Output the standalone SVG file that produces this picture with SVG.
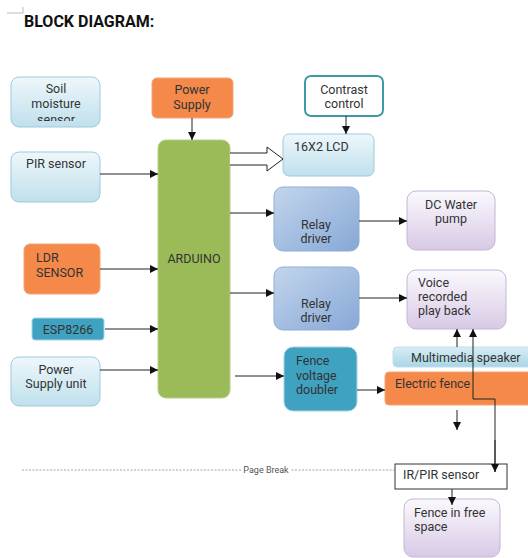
<svg xmlns="http://www.w3.org/2000/svg" width="528" height="558" viewBox="0 0 528 558">
<style>
text{font-family:Roboto,"Liberation Sans",sans-serif;font-size:12.5px;fill:#333}
.c{text-anchor:middle}
.ln{stroke:#222;stroke-width:1;fill:none}
.lb{fill:url(#gLB);stroke:#9fcbdc;stroke-width:1}
.rb{fill:url(#gRB);stroke:#8eaed6;stroke-width:1}
.pu{fill:url(#gPU);stroke:#c4b6d2;stroke-width:1}
.or{fill:#F4894A;stroke:#f2a57a;stroke-width:1}
</style>
<defs>
<linearGradient id="gLB" x1="0" y1="0" x2="0" y2="1"><stop offset="0" stop-color="#eef7fb"/><stop offset="1" stop-color="#bfe0ec"/></linearGradient>
<linearGradient id="gRB" x1="0" y1="0" x2="1" y2="1"><stop offset="0" stop-color="#c3d5ec"/><stop offset="1" stop-color="#86a8d6"/></linearGradient>
<linearGradient id="gPU" x1="0" y1="0" x2="0" y2="1"><stop offset="0" stop-color="#fbf9fd"/><stop offset="1" stop-color="#d8c9e6"/></linearGradient>
<linearGradient id="gMS" x1="0" y1="0" x2="0" y2="1"><stop offset="0" stop-color="#d8edf5"/><stop offset="1" stop-color="#a9d5e6"/></linearGradient>
<marker id="ah" viewBox="0 0 10 10" refX="10" refY="5" markerWidth="8" markerHeight="8" orient="auto" markerUnits="userSpaceOnUse"><path d="M0,0 L10,5 L0,10 z" fill="#111"/></marker>
<clipPath id="soilClip"><rect x="11" y="77" width="89" height="44"/></clipPath>
</defs>
<rect width="528" height="558" fill="#fff"/>
<path d="M7,13 H23 V7" stroke="#bbb" stroke-width="1" fill="none"/>
<text x="24" y="27" style="font-size:16px;font-weight:bold;fill:#111">BLOCK DIAGRAM:</text>

<g id="soil">
<rect class="lb" x="11" y="77" width="89" height="50" rx="8"/>
<g clip-path="url(#soilClip)">
<text x="56" y="93" class="c">Soil</text>
<text x="56" y="108" class="c">moisture</text>
<text x="56" y="124" class="c">sensor</text>
</g>
</g>
<g id="power-supply">
<rect class="or" x="152" y="78" width="81" height="40" rx="5"/>
<text x="192" y="94" class="c">Power</text>
<text x="192" y="109" class="c">Supply</text>
</g>
<g id="arduino">
<rect x="158" y="140" width="72" height="258" rx="8" fill="#9BBB59" stroke="#b5d08a"/>
<text x="194" y="263" class="c">ARDUINO</text>
</g>
<g id="contrast">
<rect x="305" y="76" width="78" height="40" rx="6" fill="#fff" stroke="#3f9aa6" stroke-width="2"/>
<text x="344" y="94" class="c">Contrast</text>
<text x="344" y="108" class="c">control</text>
</g>
<g id="lcd">
<rect class="lb" x="283" y="134" width="91" height="42" rx="6"/>
<text x="294" y="151">16X2 LCD</text>
</g>
<g id="pir">
<rect class="lb" x="11" y="152" width="89" height="50" rx="8"/>
<text x="26" y="168">PIR sensor</text>
</g>
<g id="ldr">
<rect class="or" x="24" y="244" width="76" height="50" rx="6"/>
<text x="36" y="262">LDR</text>
<text x="36" y="277">SENSOR</text>
</g>
<g id="esp">
<rect x="32" y="318" width="72" height="22" rx="3" fill="#3FA2C0" stroke="#a8d4e3"/>
<text x="68" y="334" class="c">ESP8266</text>
</g>
<g id="psu">
<rect class="lb" x="11" y="357" width="89" height="49" rx="8"/>
<text x="56" y="374" class="c">Power</text>
<text x="56" y="388" class="c">Supply unit</text>
</g>
<g id="relay1">
<rect class="rb" x="274" y="187" width="85" height="64" rx="9"/>
<text x="316" y="229" class="c">Relay</text>
<text x="316" y="243" class="c">driver</text>
</g>
<g id="pump">
<rect class="pu" x="407" y="191" width="88" height="59" rx="9"/>
<text x="451" y="209" class="c">DC Water</text>
<text x="451" y="223" class="c">pump</text>
</g>
<g id="relay2">
<rect class="rb" x="274" y="267" width="85" height="63" rx="9"/>
<text x="316" y="308" class="c">Relay</text>
<text x="316" y="322" class="c">driver</text>
</g>
<g id="voice">
<rect class="pu" x="407" y="270" width="99" height="59" rx="9"/>
<text x="418" y="287">Voice</text>
<text x="418" y="301">recorded</text>
<text x="418" y="315">play back</text>
</g>
<g id="speaker">
<rect x="393" y="347" width="140" height="20" rx="4" fill="url(#gMS)" stroke="#bfe0ec"/>
<text x="411" y="362">Multimedia speaker</text>
</g>
<g id="fence">
<rect class="or" x="385" y="372" width="148" height="33" rx="4"/>
<text x="395" y="388">Electric fence</text>
</g>
<g id="doubler">
<rect x="284" y="347" width="73" height="64" rx="9" fill="#3FA2C0" stroke="#a8d4e3"/>
<text x="296" y="365">Fence</text>
<text x="296" y="380">voltage</text>
<text x="296" y="394">doubler</text>
</g>
<g id="irpir">
<rect x="395" y="464" width="112" height="25" fill="#fff" stroke="#333" stroke-width="1"/>
<text x="403" y="479">IR/PIR sensor</text>
</g>
<g id="free-space">
<rect class="pu" x="404" y="499" width="96" height="58" rx="9"/>
<text x="414" y="517">Fence in free</text>
<text x="414" y="531">space</text>
</g>

<g id="connectors">
<line class="ln" x1="192" y1="118" x2="192" y2="140" marker-end="url(#ah)"/>
<line class="ln" x1="346" y1="116" x2="346" y2="134" marker-end="url(#ah)"/>
<path d="M230,153 H267 V147 L283,159 L267,171 V165 H230" fill="#fff" stroke="#222" stroke-width="1"/>
<line class="ln" x1="100" y1="174" x2="158" y2="174" marker-end="url(#ah)"/>
<line class="ln" x1="100" y1="269" x2="158" y2="269" marker-end="url(#ah)"/>
<line class="ln" x1="105" y1="329" x2="158" y2="329" marker-end="url(#ah)"/>
<line class="ln" x1="100" y1="370" x2="158" y2="370" marker-end="url(#ah)"/>
<line class="ln" x1="230" y1="213" x2="274" y2="213" marker-end="url(#ah)"/>
<line class="ln" x1="230" y1="293" x2="274" y2="293" marker-end="url(#ah)"/>
<line class="ln" x1="235" y1="376" x2="284" y2="376" marker-end="url(#ah)"/>
<line class="ln" x1="359" y1="221" x2="407" y2="221" marker-end="url(#ah)"/>
<line class="ln" x1="359" y1="298" x2="407" y2="298" marker-end="url(#ah)"/>
<line class="ln" x1="357" y1="390" x2="385" y2="390" marker-end="url(#ah)"/>
<line class="ln" x1="457" y1="347" x2="457" y2="329" marker-end="url(#ah)"/>
<line class="ln" x1="457" y1="410" x2="457" y2="430" marker-end="url(#ah)"/>
<path class="ln" d="M495,472 V399 H473 V329" marker-end="url(#ah)"/>
<line class="ln" x1="495" y1="440" x2="495" y2="472" marker-end="url(#ah)"/>
<line class="ln" x1="452" y1="489" x2="452" y2="505" marker-end="url(#ah)"/>
<line x1="22" y1="470" x2="395" y2="470" stroke="#888" stroke-width="0.8" stroke-dasharray="2,1.5"/>
<rect x="241" y="465" width="50" height="10" fill="#fff"/>
<text x="266" y="473" class="c" style="font-size:9px;fill:#555">Page Break</text>
</g>
</svg>
